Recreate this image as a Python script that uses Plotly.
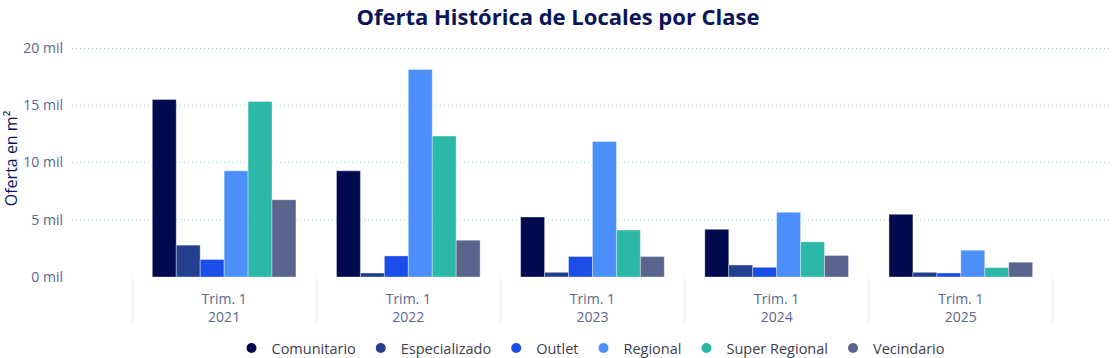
import plotly.graph_objects as go

years = ["2021", "2022", "2023", "2024", "2025"]
quarters = ["Trim. 1", "Trim. 1", "Trim. 1", "Trim. 1", "Trim. 1"]

comunitario = [15500, 9270, 5240, 4160, 5470]
especializado = [2780, 350, 410, 1050, 410]
outlet = [1530, 1840, 1790, 850, 350]
regional = [9270, 18130, 11840, 5650, 2340]
super_regional = [15320, 12310, 4100, 3070, 820]
vecindario = [6750, 3220, 1790, 1880, 1290]

series_names = ["Comunitario", "Especializado", "Outlet", "Regional", "Super Regional", "Vecindario"]
series_values = [comunitario, especializado, outlet, regional, super_regional, vecindario]
series_colors = ["#020a4f", "#23408e", "#1b4de8", "#4b8ffb", "#2bb8a6", "#59658f"]

tick_vals = [0, 5000, 10000, 15000, 20000]
tick_text = ["0 mil", "5 mil", "10 mil", "15 mil", "20 mil"]
x_tick_text = [f"{q}<br>{y}" for q, y in zip(quarters, years)]

fig = go.Figure()
for name, vals, col in zip(series_names, series_values, series_colors):
    fig.add_trace(go.Bar(
        x=years,
        y=vals,
        name=name,
        legendgroup=name,
        showlegend=False,
        marker=dict(color=col, line=dict(width=0.6, color="rgba(255,255,255,0.6)")),
    ))
# legend entries with round dots
for name, col in zip(series_names, series_colors):
    fig.add_trace(go.Scatter(
        x=[None], y=[None],
        mode="markers",
        name=name,
        legendgroup=name,
        marker=dict(color=col, size=10, symbol="circle"),
        showlegend=True,
    ))

fig.update_layout(
    width=1116, height=358,
    barmode="group",
    bargap=0.22,
    bargroupgap=0,
    plot_bgcolor="white",
    paper_bgcolor="white",
    font=dict(family="Open Sans, sans-serif", color="#5a6690", size=13),
    margin=dict(l=72, r=6, t=40, b=81, autoexpand=False),
    title=dict(
        text="<b>Oferta Histórica de Locales por Clase</b>",
        x=0.5, xanchor="center", y=1 - 17 / 358, yanchor="middle",
        font=dict(size=22, color="#0a1458", family="Open Sans, sans-serif"),
    ),
    legend=dict(
        orientation="h",
        x=0.5, xanchor="center",
        yref="container", y=10 / 358, yanchor="middle",
        font=dict(size=14.5, color="#3d3d4d"),
        itemwidth=30,
        tracegroupgap=0,
        traceorder="normal",
    ),
    showlegend=True,
)

fig.update_xaxes(
    type="category",
    automargin=False,
    showgrid=False,
    showline=False,
    tickmode="array",
    tickvals=years,
    ticktext=x_tick_text,
    ticks="outside",
    tickson="boundaries",
    ticklen=46,
    tickwidth=1,
    tickcolor="#eeeeee",
    ticklabelstandoff=12,
    tickfont=dict(size=14, color="#5a6690"),
    range=[-0.826, 4.81],
)

fig.update_yaxes(
    automargin=False,
    range=[0, 20700],
    tickvals=tick_vals,
    ticktext=tick_text,
    showgrid=True,
    gridcolor="#9fcfc6",
    griddash="1px,3px",
    gridwidth=1,
    zeroline=False,
    showline=False,
    ticklabelstandoff=8,
    tickfont=dict(size=14, color="#5a6690"),
    title=dict(text="Oferta en m²", font=dict(size=16, color="#0a1458"), standoff=10),
)

fig.write_html("out.html", post_script="document.body.style.margin='0px';",
               config={"displayModeBar": False})
